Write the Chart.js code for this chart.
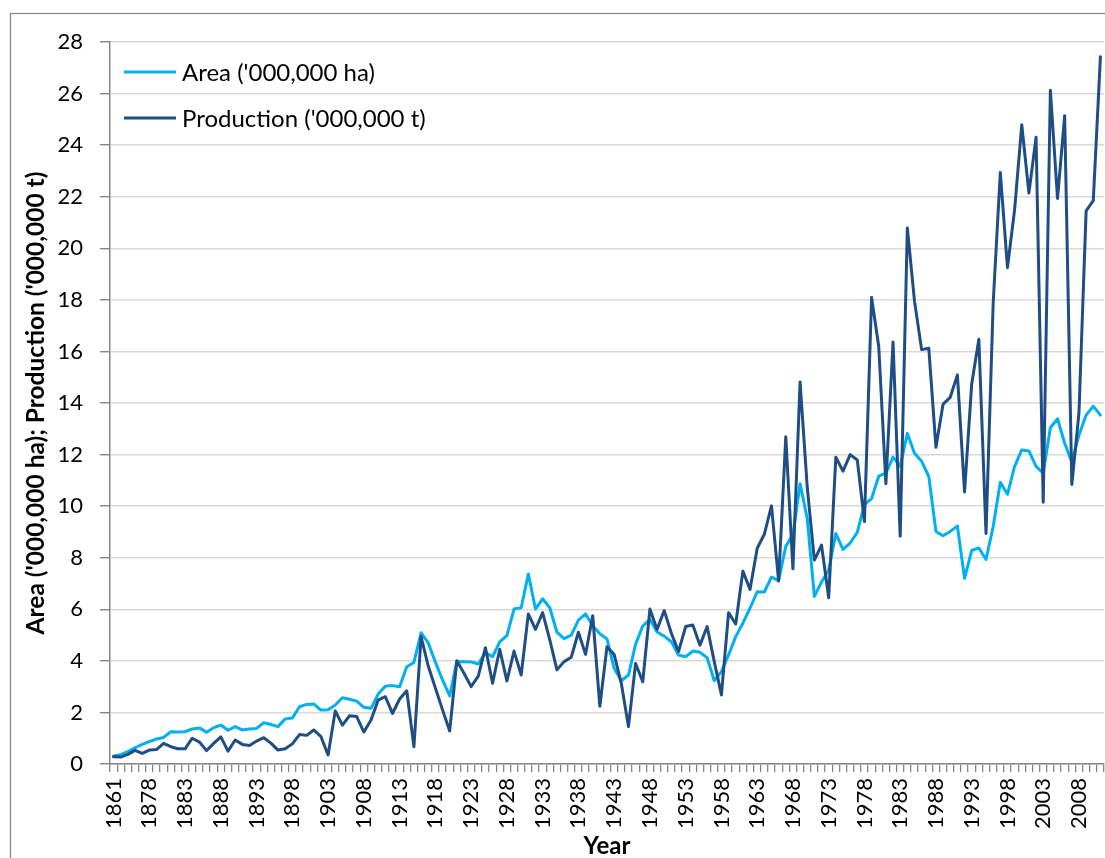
<!DOCTYPE html>
<html><head><meta charset="utf-8">
<script src="https://cdn.jsdelivr.net/npm/chart.js@4.4.1/dist/chart.umd.min.js"></script>
<style>html,body{margin:0;padding:0;background:#fff;overflow:hidden}canvas{display:block}</style>
</head><body>
<canvas id="c" width="1105" height="858"></canvas>
<script>
const years = ['1861','1866','1871','1876','1877',
'1878','1879','1880','1881','1882','1883','1884','1885','1886','1887','1888','1889','1890','1891','1892',
'1893','1894','1895','1896','1897','1898','1899','1900','1901','1902','1903','1904','1905','1906','1907',
'1908','1909','1910','1911','1912','1913','1914','1915','1916','1917','1918','1919','1920','1921','1922',
'1923','1924','1925','1926','1927','1928','1929','1930','1931','1932','1933','1934','1935','1936','1937',
'1938','1939','1940','1941','1942','1943','1944','1945','1946','1947','1948','1949','1950','1951','1952',
'1953','1954','1955','1956','1957','1958','1959','1960','1961','1962','1963','1964','1965','1966','1967',
'1968','1969','1970','1971','1972','1973','1974','1975','1976','1977','1978','1979','1980','1981','1982',
'1983','1984','1985','1986','1987','1988','1989','1990','1991','1992','1993','1994','1995','1996','1997',
'1998','1999','2000','2001','2002','2003','2004','2005','2006','2007','2008','2009','2010','2011'];

const area = [0.31,0.36,0.48,0.63,0.76,0.87,0.97,1.03,1.25,1.24,1.25,1.36,1.40,1.23,1.41,1.51,1.31,1.45,1.32,1.36,
1.38,1.60,1.53,1.45,1.75,1.78,2.22,2.31,2.33,2.09,2.10,2.29,2.57,2.51,2.44,2.20,2.16,2.71,3.02,3.04,
3.00,3.77,3.94,5.09,4.70,3.95,3.26,2.64,3.97,3.97,3.96,3.88,4.32,4.16,4.74,4.98,6.01,6.06,7.37,6.01,
6.41,6.06,5.11,4.86,5.00,5.58,5.82,5.36,5.05,4.85,3.71,3.23,3.45,4.65,5.35,5.61,5.12,4.96,4.74,4.23,
4.16,4.38,4.33,4.12,3.23,3.58,4.23,4.94,5.46,6.04,6.68,6.67,7.25,7.11,8.44,8.90,10.87,9.52,6.50,7.06,
7.52,8.94,8.32,8.57,8.98,10.06,10.29,11.16,11.28,11.90,11.54,12.82,12.05,11.74,11.15,9.02,8.85,9.02,9.23,7.20,
8.28,8.38,7.93,9.20,10.93,10.46,11.54,12.18,12.14,11.54,11.28,13.04,13.39,12.44,11.71,12.75,13.53,13.88,13.53];

const production = [0.28,0.27,0.37,0.53,0.41,0.54,0.56,0.80,0.67,0.59,0.59,1.00,0.85,0.52,0.80,1.05,0.50,0.93,0.76,0.72,
0.89,1.02,0.81,0.54,0.59,0.78,1.14,1.11,1.32,1.06,0.35,2.06,1.51,1.87,1.84,1.24,1.71,2.48,2.61,1.96,
2.52,2.84,0.67,4.94,3.80,2.95,2.10,1.28,4.00,3.52,3.00,3.41,4.51,3.13,4.45,3.22,4.38,3.45,5.82,5.22,
5.87,4.81,3.65,3.97,4.14,5.11,4.25,5.75,2.24,4.55,4.25,3.13,1.45,3.90,3.19,6.01,5.22,5.95,5.07,4.36,
5.33,5.39,4.61,5.33,3.97,2.68,5.87,5.43,7.48,6.77,8.36,8.91,10.01,7.10,12.69,7.57,14.81,10.75,7.91,8.49,
6.45,11.90,11.36,12.00,11.79,9.40,18.09,16.19,10.87,16.37,8.83,20.79,17.95,16.07,16.12,12.28,13.96,14.22,15.09,10.55,
14.74,16.47,8.94,17.86,22.94,19.25,21.50,24.79,22.14,24.31,10.15,26.13,21.93,25.14,10.84,13.62,21.45,21.85,27.43];

const seriesNames = ["Area ('000,000 ha)", "Production ('000,000 t)"];
const seriesColors = ['#00B0F0', '#1F4E85'];
const yMin = 0, yMax = 28, yStep = 2;
const labelEvery = 5;
const xTitle = 'Year';
const yTitle = "Area ('000,000 ha); Production ('000,000 t)";

const FONT = 'Lato';
const AXIS = '#868686';

const framePlugin = {
  id: 'frame',
  beforeDraw(chart) {
    const ctx = chart.ctx;
    ctx.save();
    ctx.strokeStyle = '#8a8a8a';
    ctx.lineWidth = 1.3;
    ctx.strokeRect(10.5, 13.5, 1300, 1000);
    ctx.restore();
  }
};

const insideLegend = {
  id: 'insideLegend',
  afterDatasetsDraw(chart) {
    const {ctx, chartArea} = chart;
    ctx.save();
    ctx.font = '24px ' + FONT;
    ctx.textBaseline = 'middle';
    ctx.textAlign = 'left';
    seriesNames.forEach((name, k) => {
      const y = chartArea.top + 30 + k * 46;
      ctx.strokeStyle = seriesColors[k];
      ctx.lineWidth = 3;
      ctx.beginPath();
      ctx.moveTo(chartArea.left + 14, y);
      ctx.lineTo(chartArea.left + 66, y);
      ctx.stroke();
      ctx.fillStyle = '#000';
      ctx.fillText(name, chartArea.left + 72, y + 1);
    });
    ctx.restore();
  }
};

new Chart(document.getElementById('c'), {
  type: 'line',
  data: {
    labels: years,
    datasets: [
      {label: seriesNames[0], data: area, borderColor: seriesColors[0], backgroundColor: seriesColors[0],
       borderWidth: 3, pointRadius: 0, tension: 0, borderJoinStyle: 'round', borderCapStyle: 'round', order: 1},
      {label: seriesNames[1], data: production, borderColor: seriesColors[1], backgroundColor: seriesColors[1],
       borderWidth: 3, pointRadius: 0, tension: 0, borderJoinStyle: 'round', borderCapStyle: 'round', order: 0}
    ]
  },
  options: {
    responsive: false,
    animation: false,
    devicePixelRatio: 1,
    layout: {padding: {left: 10, top: 42, right: 1, bottom: 0}},
    plugins: {legend: {display: false}, tooltip: {enabled: false}},
    scales: {
      x: {
        type: 'category',
        offset: true,
        grid: {offset: true, drawOnChartArea: false, drawTicks: true, tickLength: 8, color: AXIS, tickColor: AXIS, lineWidth: 1.3},
        border: {color: AXIS, width: 1.5},
        ticks: {
          autoSkip: false, maxRotation: 90, minRotation: 90, padding: 6,
          color: '#000', font: {family: FONT, size: 22},
          callback: (v, i) => (i % labelEvery === 0 ? years[i] : '')
        },
        title: {display: true, text: xTitle, color: '#000', font: {family: FONT, size: 24, weight: 'bold', lineHeight: 1}, padding: 0},
        afterFit: (s) => { s.height = 94; s.paddingLeft = 0; s.paddingRight = 0; }
      },
      y: {
        min: yMin, max: yMax,
        grid: {color: '#D9D9D9', lineWidth: 1.4, tickColor: AXIS, tickLength: 10, drawTicks: true},
        border: {color: AXIS, width: 1.5},
        ticks: {stepSize: yStep, padding: 17, color: '#000', font: {family: FONT, size: 22}},
        title: {display: true, text: yTitle, color: '#000', font: {family: FONT, size: 24.5, weight: 'bold', lineHeight: 1.2}, padding: {top: 11, bottom: 0}},
        afterFit: (s) => { s.width = 100; s.paddingTop = 0; s.paddingBottom = 0; }
      }
    }
  },
  plugins: [framePlugin, insideLegend]
});
</script>
</body></html>
